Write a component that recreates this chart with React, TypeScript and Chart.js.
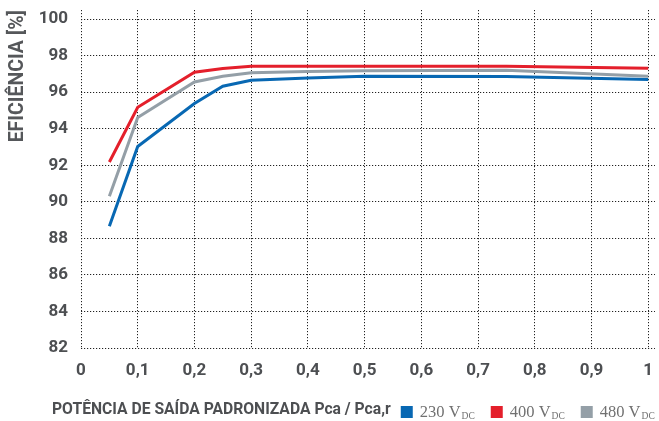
import React, { useEffect, useRef } from "react";
import { Chart, registerables } from "chart.js";

Chart.register(...registerables);

const xValues = [0.05, 0.1, 0.2, 0.25, 0.3, 0.4, 0.5, 0.75, 1];
const series230 = [88.67, 93.03, 95.38, 96.33, 96.65, 96.78, 96.87, 96.86, 96.7];
const series400 = [92.18, 95.18, 97.09, 97.3, 97.42, 97.42, 97.42, 97.42, 97.31];
const series480 = [90.3, 94.62, 96.56, 96.87, 97.07, 97.14, 97.17, 97.2, 96.87];
const xTicks = [0, 0.1, 0.2, 0.3, 0.4, 0.5, 0.6, 0.7, 0.8, 0.9, 1];
const yTicks = [82, 84, 86, 88, 90, 92, 94, 96, 98, 100];
const seriesLabels = ["230 V", "400 V", "480 V"];
const seriesSub = "DC";
const seriesColors = ["#0868b3", "#e41f2b", "#949fa7"];
const xTitle = "POTÊNCIA DE SAÍDA PADRONIZADA Pca / Pca,r";
const yTitle = "EFICIÊNCIA [%]";

const bottomRow = {
  id: "bottomRow",
  afterDraw(chart: any) {
    const ctx = chart.ctx;
    ctx.save();
    ctx.textBaseline = "alphabetic";
    ctx.fillStyle = "#4d4f52";
    ctx.font = "bold 15.7px Roboto";
    const y = 414;
    let x = 52;
    ctx.fillText(xTitle, x, y);
    x += ctx.measureText(xTitle).width + 10;
    chart.data.datasets.forEach((ds: any, i: number) => {
      ctx.fillStyle = ds.borderColor;
      ctx.fillRect(x, 406, 12, 12);
      x += 19;
      ctx.fillStyle = "#707070";
      ctx.font = "16.5px 'Liberation Serif'";
      ctx.fillText(seriesLabels[i], x, y + 3);
      x += ctx.measureText(seriesLabels[i]).width + 1;
      ctx.font = "9.5px 'Liberation Serif'";
      ctx.fillText(seriesSub, x, y + 5);
      x += ctx.measureText(seriesSub).width + 16;
    });
    ctx.restore();
  },
};

export default function App() {
  const ref = useRef<HTMLCanvasElement>(null);
  useEffect(() => {
    document.body.style.margin = "0";
    const mk = (vals: number[]) => xValues.map((x, i) => ({ x, y: vals[i] }));
    const chart = new Chart(ref.current!, {
      type: "line",
      data: {
        datasets: [
          { label: "230 VDC", data: mk(series230), borderColor: seriesColors[0], backgroundColor: seriesColors[0] },
          { label: "400 VDC", data: mk(series400), borderColor: seriesColors[1], backgroundColor: seriesColors[1] },
          { label: "480 VDC", data: mk(series480), borderColor: seriesColors[2], backgroundColor: seriesColors[2] },
        ],
      },
      options: {
        animation: false,
        responsive: false,
        layout: { padding: 0 },
        elements: { point: { radius: 0 }, line: { borderWidth: 3, tension: 0 } },
        plugins: { legend: { display: false }, tooltip: { enabled: false } },
        scales: {
          x: {
            type: "linear",
            min: 0,
            max: 1.012,
            afterBuildTicks: (s: any) => {
              s.ticks = xTicks.map((value) => ({ value }));
            },
            afterFit: (s: any) => {
              s.height = 73;
              s.paddingLeft = 0;
              s.paddingRight = 4;
            },
            ticks: {
              padding: 13,
              color: "#4d4f52",
              font: { family: "Roboto", weight: "bold", size: 17 },
              callback: (v: any) => {
                const n = Number(v);
                if (n < 0.001) return "0";
                if (n > 0.999) return "1";
                return n.toFixed(1).replace(".", ",");
              },
            },
            grid: { color: "#222", drawTicks: false, lineWidth: 1 },
            border: { display: false, dash: [1.2, 1.8] },
          },
          y: {
            type: "linear",
            min: 82,
            max: 100.5,
            afterBuildTicks: (s: any) => {
              s.ticks = yTicks.map((value) => ({ value }));
            },
            afterFit: (s: any) => {
              s.width = 81;
              s.paddingTop = 10;
              s.paddingBottom = 0;
            },
            ticks: {
              padding: 13,
              color: "#4d4f52",
              font: { family: "Roboto", weight: "bold", size: 17 },
            },
            grid: { color: "#222", drawTicks: false, lineWidth: 1 },
            border: { display: false, dash: [1.2, 1.8] },
            title: {
              display: true,
              text: yTitle,
              align: "end",
              color: "#55575a",
              padding: { top: 6, bottom: 0 },
              font: { family: "Roboto", weight: "bold", size: 19.5 },
            },
          },
        },
      },
      plugins: [bottomRow],
    });
    return () => chart.destroy();
  }, []);
  return (
    <div style={{ width: 659, height: 421 }}>
      <canvas ref={ref} width={659} height={421} style={{ display: "block" }} />
    </div>
  );
}
